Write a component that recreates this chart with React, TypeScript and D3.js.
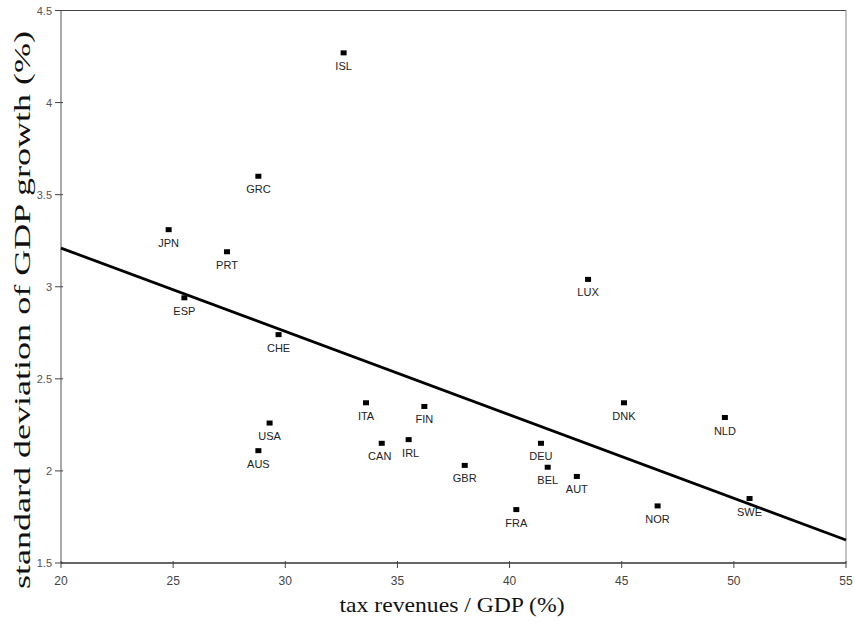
import React from "react";
import * as d3 from "d3";

const countries = ["ISL","GRC","JPN","PRT","ESP","CHE","USA","AUS","ITA","FIN","CAN","IRL","GBR","DEU","BEL","AUT","DNK","NLD","FRA","NOR","SWE","LUX"];
const taxRevenues = [32.6,28.8,24.8,27.4,25.5,29.7,29.3,28.8,33.6,36.2,34.3,35.5,38.0,41.4,41.7,43.0,45.1,49.6,40.3,46.6,50.7,43.5];
const gdpStdDev = [4.27,3.60,3.31,3.19,2.94,2.74,2.26,2.11,2.37,2.35,2.15,2.17,2.03,2.15,2.02,1.97,2.37,2.29,1.79,1.81,1.85,3.04];
const labelDx = [0,0,0,0,0,0,0,0,0,0,-2,2,0,0,0,0,0,0,0,0,0,0];
const fitX = [20, 55];
const fitY = [3.21, 1.625];
const xTicks = [20,25,30,35,40,45,50,55];
const yTicks = [1.5,2,2.5,3,3.5,4,4.5];

export default function App() {
  const left = 61, right = 846, top = 10.5, bottom = 563;
  const x = d3.scaleLinear().domain([20, 55]).range([left, right]);
  const y = d3.scaleLinear().domain([1.5, 4.5]).range([bottom, top]);
  const line = d3.line<number>().x((_, i) => x(fitX[i])).y((d) => y(d));
  const sans = "'Liberation Sans', Arial, sans-serif";
  const serif = "'Liberation Serif', 'DejaVu Serif', serif";
  return (
    <svg width={854} height={621} style={{ position: "absolute", left: 0, top: 0, background: "#fff" }}>
      {/* frame */}
      <line x1={left} x2={right} y1={top} y2={top} stroke="#444" strokeWidth={1} />
      <line x1={right} x2={right} y1={top} y2={bottom} stroke="#888" strokeWidth={1} />
      <line x1={left} x2={left} y1={top} y2={bottom} stroke="#555" strokeWidth={1} />
      <line x1={left} x2={right} y1={bottom} y2={bottom} stroke="#333" strokeWidth={1.6} />
      {/* y ticks */}
      {yTicks.map((t) => (
        <g key={"y" + t}>
          <line x1={left - 6} x2={left + 2} y1={y(t)} y2={y(t)} stroke="#444" strokeWidth={1} />
          <text x={left - 9} y={y(t) + 4} textAnchor="end" fontFamily={sans} fontSize={11} fill="#555">{String(t)}</text>
        </g>
      ))}
      {/* x ticks */}
      {xTicks.map((t) => (
        <g key={"x" + t}>
          <line x1={x(t)} x2={x(t)} y1={bottom - 2} y2={bottom + 5} stroke="#444" strokeWidth={1} />
          <text x={x(t)} y={bottom + 22} textAnchor="middle" fontFamily={sans} fontSize={12} fill="#444">{String(t)}</text>
        </g>
      ))}
      {/* regression line */}
      <path d={line(fitY) || ""} fill="none" stroke="#000" strokeWidth={2.8} />
      {/* points */}
      {countries.map((c, i) => (
        <g key={c}>
          <rect x={x(taxRevenues[i]) - 3} y={y(gdpStdDev[i]) - 2.5} width={6} height={5} fill="#000" />
          <text x={x(taxRevenues[i]) + labelDx[i]} y={y(gdpStdDev[i]) + 17} textAnchor="middle" fontFamily={sans} fontSize={11} fill="#222">{c}</text>
        </g>
      ))}
      {/* axis titles */}
      <text x={452} y={612} textAnchor="middle" fontFamily={serif} fontSize={21} fill="#111" textLength={225} lengthAdjust="spacingAndGlyphs">tax revenues / GDP (%)</text>
      <text transform="translate(30,310) rotate(-90)" textAnchor="middle" fontFamily={serif} fontSize={24} fill="#111" textLength={558} lengthAdjust="spacingAndGlyphs">standard deviation of GDP growth (%)</text>
    </svg>
  );
}
